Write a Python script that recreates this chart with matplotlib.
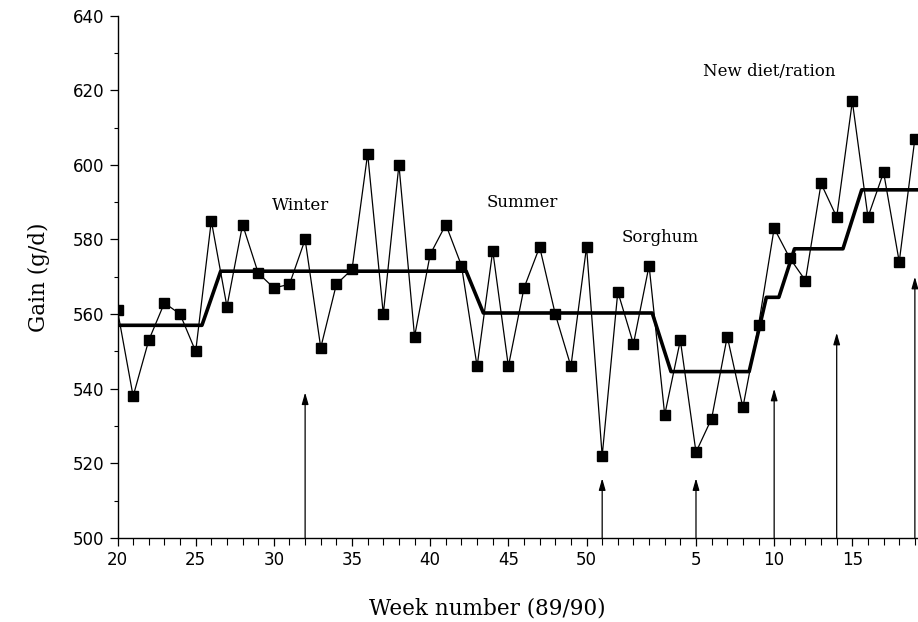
import matplotlib.pyplot as plt
from matplotlib.ticker import MultipleLocator

# week index: 20..52 = weeks of 1989, 53.. = weeks 1.. of 1990
weeks = list(range(20, 72))
gain = [561, 538, 553, 563, 560, 550, 585, 562, 584, 571,
        567, 568, 580, 551, 568, 572, 603, 560, 600, 554,
        576, 584, 573, 546, 577, 546, 567, 578, 560, 546,
        578, 522, 566, 552, 573, 533, 553, 523, 532, 554,
        535, 557, 583, 575, 569, 595, 586, 617, 586, 598,
        574, 607]

# fitted level line (break points)
trend_x = [20, 25.4, 26.6, 42.3, 43.4, 54.2, 55.4, 60.4, 61.5, 62.3, 63.3, 66.4, 67.6, 71.3]
trend_y = [557, 557, 571.5, 571.5, 560.3, 560.3, 544.6, 544.6, 564.5, 564.5, 577.5, 577.5, 593.3, 593.3]

# intervention arrows
arrow_x = [32, 51, 57, 62, 66, 71]
arrow_top = [539, 516, 516, 540, 555, 570]

notes = ["Winter", "Summer", "Sorghum", "New diet/ration"]
note_x = [31.7, 45.9, 54.7, 61.7]
note_y = [589, 590, 580.5, 625]

tick_pos = [20, 25, 30, 35, 40, 45, 50, 57, 62, 67]
tick_lab = ["20", "25", "30", "35", "40", "45", "50", "5", "10", "15"]

serif = ["DejaVu Serif"]

fig = plt.figure(figsize=(9.18, 6.22), dpi=100)
ax = fig.add_axes([0.128, 0.135, 0.872, 0.84])

ax.plot(weeks, gain, color="black", lw=0.9, marker="s", ms=6.5, zorder=3)
ax.plot(trend_x, trend_y, color="black", lw=2.6, zorder=2)

for x, top in zip(arrow_x, arrow_top):
    ax.annotate("", xy=(x, top), xytext=(x, 500),
                arrowprops=dict(arrowstyle="-|>,head_width=0.2,head_length=0.7",
                                color="black", lw=0.9, shrinkA=0, shrinkB=0))

for t, x, y in zip(notes, note_x, note_y):
    ax.text(x, y, t, ha="center", va="center", fontsize=12, family=serif)

ax.set_xlim(20, 71.2)
ax.set_ylim(500, 640)
ax.set_xticks(tick_pos)
ax.set_xticklabels(tick_lab)
ax.xaxis.set_minor_locator(MultipleLocator(1))
ax.yaxis.set_major_locator(MultipleLocator(20))
ax.yaxis.set_minor_locator(MultipleLocator(10))
ax.tick_params(axis="both", which="major", direction="out", length=6, width=0.9,
               labelsize=12)
ax.tick_params(axis="both", which="minor", direction="out", length=5, width=0.8)
ax.tick_params(axis="y", which="minor", length=3)

for s in ["top", "right"]:
    ax.spines[s].set_visible(False)
ax.spines["left"].set_linewidth(1.0)
ax.spines["bottom"].set_linewidth(1.0)

ax.set_xlabel("Week number (89/90)", fontsize=15.5, family=serif, labelpad=20, x=0.462)
ax.set_ylabel("Gain (g/d)", fontsize=15.5, family=serif, labelpad=16)

fig.savefig("out.png", dpi=100)
